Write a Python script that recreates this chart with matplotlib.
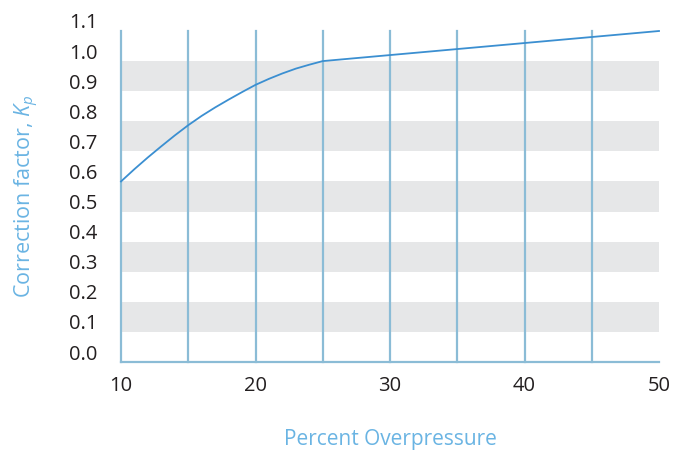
import matplotlib
matplotlib.use("Agg")
import matplotlib.pyplot as plt
import matplotlib.transforms as mtransforms

overpressure = [10, 11, 12, 13, 14, 15, 16, 17, 18, 19, 20, 21, 22, 23, 24, 25, 30, 35, 40, 45, 50]
kp = [0.600, 0.641, 0.680, 0.717, 0.753, 0.787, 0.818, 0.846, 0.872, 0.897, 0.921,
      0.941, 0.959, 0.975, 0.988, 1.000, 1.020, 1.040, 1.060, 1.080, 1.100]
vlines_x = [10, 15, 20, 25, 30, 35, 40, 45]
band_ranges = [(0.1, 0.2), (0.3, 0.4), (0.5, 0.6), (0.7, 0.8), (0.9, 1.0)]
xticks = [10, 20, 30, 40, 50]
yticks = [0.0, 0.1, 0.2, 0.3, 0.4, 0.5, 0.6, 0.7, 0.8, 0.9, 1.0, 1.1]

plt.rcParams['font.family'] = ['Open Sans', 'DejaVu Sans']
plt.rcParams['mathtext.fontset'] = 'custom'
plt.rcParams['mathtext.it'] = 'Open Sans:italic'
plt.rcParams['mathtext.rm'] = 'Open Sans'

fig = plt.figure(figsize=(6.78, 4.5), dpi=100)
ax = fig.add_axes([121/678, 1 - 362/450, (659 - 121)/678, (362 - 31)/450])
ax.set_xlim(10, 50)
ax.set_ylim(0, 1.1)

for lo, hi in band_ranges:
    ax.axhspan(lo, hi, color='#e6e7e8', lw=0, zorder=0)
for xv in vlines_x:
    ax.axvline(xv, color='#8bbcd6', lw=1.6, zorder=1, clip_on=False)

ax.plot(overpressure, kp, color='#3b8fd1', lw=1.3, zorder=3, clip_on=False)

for s in ['top', 'right', 'left']:
    ax.spines[s].set_visible(False)
ax.spines['bottom'].set_color('#8bbcd6')
ax.spines['bottom'].set_linewidth(1.6)

ax.set_xticks(xticks)
ax.set_xticklabels([str(v) for v in xticks])
ax.set_yticks(yticks)
ax.set_yticklabels([f"{v:.1f}" for v in yticks])
ax.tick_params(axis='both', length=0, labelsize=14.5, colors='#231f20')
ax.tick_params(axis='x', pad=10)
ax.tick_params(axis='y', pad=17)

offset = mtransforms.ScaledTranslation(0, 10/100, fig.dpi_scale_trans)
for lbl in ax.get_yticklabels():
    lbl.set_transform(lbl.get_transform() + offset)

ax.set_xlabel('Percent Overpressure', color='#6ab4e3', fontsize=15, labelpad=24)
ax.set_ylabel(r'Correction factor, $\mathit{K_p}$', color='#6ab4e3', fontsize=15.5, labelpad=20)

fig.savefig('out.png', dpi=100)
